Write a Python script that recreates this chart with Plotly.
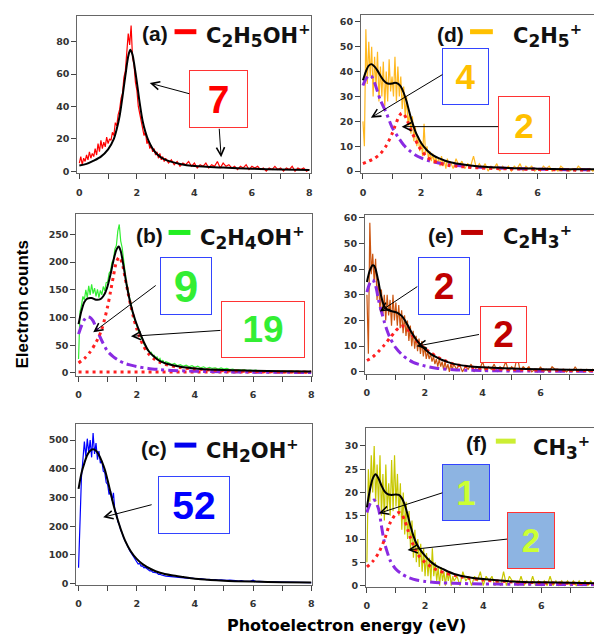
import numpy as np
import plotly.graph_objects as go

W, H = 597, 639

# ---------------- data ----------------
# energy grid of the measured spectra (eV)
energy = np.round(np.concatenate([np.arange(0, 3.0001, 0.05), np.arange(3.1, 8.0001, 0.1)]), 2)

a_counts = [5, 9, 4, 8, 6, 10, 7, 12, 8, 11, 9, 14, 10, 17, 12, 19, 14, 18, 15, 21,
            17, 20, 19, 24, 22, 30, 28, 35, 38, 45, 48, 58, 62, 72, 85, 78, 90, 70, 66, 55,
            50, 40, 36, 30, 28, 22, 24, 17, 19, 14, 16, 12, 14, 10, 12, 8, 11, 7, 9, 6, 8,
            5, 7, 4, 6, 3, 5, 4, 6, 3, 5, 2, 4, 3, 5, 2, 4, 3, 6, 2, 5,
            3, 4, 2, 3, 1, 3, 2, 4, 1, 3, 2, 3, 1, 2, 0, 2, 1, 3, 1, 2,
            0, 2, 1, 3, 0, 2, 1, 2, 0, 1]
b_counts = [25, 110, 122, 138, 132, 150, 136, 157, 141, 160, 143, 153, 138, 151, 136, 149, 141, 156, 148, 163,
            164, 180, 184, 200, 204, 224, 230, 256, 268, 238, 226, 198, 182, 162, 152, 136, 127, 110, 103, 90,
            87, 76, 72, 64, 60, 52, 50, 44, 42, 36, 37, 31, 32, 27, 29, 23, 26, 19, 23, 17, 20,
            18, 15, 17, 13, 15, 12, 14, 11, 13, 10, 12, 9, 11, 8, 10, 8, 9, 7, 9, 7,
            8, 6, 7, 5, 6, 5, 6, 4, 5, 4, 5, 3, 4, 3, 4, 3, 4, 2, 3, 3,
            3, 2, 3, 2, 3, 1, 2, 2, 1, 2]
c_counts = [55, 260, 372, 432, 495, 442, 505, 455, 500, 440, 525, 452, 490, 432, 462, 420, 428, 392, 388, 352,
            346, 310, 322, 290, 316, 252, 246, 216, 206, 186, 176, 160, 151, 138, 128, 116, 108, 96, 92, 81,
            76, 68, 70, 61, 62, 55, 56, 50, 48, 44, 45, 40, 39, 36, 37, 32, 33, 30, 28, 27, 26,
            25, 24, 22, 23, 20, 21, 19, 18, 19, 17, 16, 17, 15, 14, 15, 13, 14, 12, 13, 11,
            11, 12, 10, 10, 9, 10, 8, 9, 8, 12, 7, 8, 7, 6, 7, 6, 6, 5, 6, 5,
            5, 5, 4, 5, 4, 4, 3, 4, 3, 3]
d_counts = [20, 10, 57, 35, 52, 38, 50, 30, 46, 34, 48, 28, 42, 30, 44, 26, 40, 28, 45, 32,
            38, 30, 46, 28, 42, 30, 38, 25, 34, 22, 30, 18, 24, 15, 22, 12, 18, 10, 14, 8,
            12, 6, 19, 7, 10, 5, 8, 4, 7, 3, 6, 3, 5, 2, 6, 2, 4, 1, 5, 2, 4,
            1, 5, 2, 4, 1, 3, 2, 6, 1, 3, 1, 3, 0, 2, 1, 3, 0, 2, 1, 2,
            0, 2, 1, 3, 0, 2, 1, 2, 0, 1, 0, 2, 1, 2, 0, 1, 0, 2, 1, 1,
            0, 1, 0, 2, 1, 1, 0, 1, 0, 1]
e_counts = [30, 7, 58, 38, 46, 35, 44, 28, 36, 24, 32, 22, 30, 20, 30, 22, 28, 18, 30, 20,
            27, 18, 26, 17, 24, 15, 22, 14, 20, 12, 18, 10, 16, 9, 14, 8, 13, 7, 12, 6,
            10, 5, 8, 5, 7, 4, 6, 3, 5, 2, 5, 2, 4, 1, 4, 1, 3, 0, 3, 1, 3,
            1, 3, 0, 2, 1, 3, 0, 2, 1, 4, 0, 2, 1, 3, 0, 2, 1, 4, 0, 2,
            1, 6, 0, 2, 1, 2, 0, 1, 0, 2, 0, 1, 0, 2, 1, 1, 0, 1, 0, 1,
            0, 2, 0, 1, 0, 1, 0, 1, 0, 1]
f_counts = [5, 25, 18, 28, 20, 30, 18, 26, 17, 28, 15, 24, 14, 26, 16, 22, 15, 27, 16, 28,
            17, 24, 15, 22, 12, 20, 11, 18, 10, 16, 8, 14, 6, 12, 5, 10, 4, 9, 3, 8,
            2, 7, 2, 6, 1, 8, 2, 5, 1, 4, 0, 4, 1, 3, 0, 3, 1, 3, 0, 2, 1,
            2, 0, 3, 1, 2, 0, 2, 1, 3, 0, 2, 1, 2, 0, 1, 0, 3, 0, 2, 1,
            1, 0, 2, 0, 1, 0, 2, 0, 1, 0, 1, 0, 2, 0, 1, 0, 1, 0, 1, 0,
            1, 0, 1, 0, 1, 0, 1, 0, 1, 0]

# total fits (black)
a_fit_x = [0, 0.25, 0.5, 0.75, 1.0, 1.2, 1.3, 1.4, 1.5, 1.6, 1.7, 1.77, 1.85, 1.9, 2.0, 2.1, 2.2, 2.3, 2.4, 2.6, 2.8, 3.0, 3.5, 4, 5, 6, 7, 8]
a_fit_y = [3.5, 4.5, 6.5, 9, 13.5, 20, 26, 34, 46, 59, 71, 75, 72, 67, 55, 42, 31, 24, 19, 12.5, 9, 7, 4.5, 3.2, 2.2, 1.5, 1, 0.7]
b_fit_x = [0, 0.1, 0.2, 0.3, 0.45, 0.6, 0.75, 0.9, 1.0, 1.1, 1.2, 1.3, 1.38, 1.45, 1.55, 1.65, 1.8, 1.95, 2.1, 2.25, 2.4, 2.6, 2.8, 3.0, 3.5, 4, 5, 6, 7, 8]
b_fit_y = [88, 112, 128, 134, 135, 132, 133, 143, 157, 178, 203, 222, 228, 220, 192, 160, 122, 95, 74, 55, 40, 29, 21, 17, 11, 8, 5, 4, 3, 2.5]
c_fit_x = [0, 0.1, 0.2, 0.3, 0.4, 0.5, 0.6, 0.7, 0.8, 0.9, 1.0, 1.2, 1.4, 1.6, 1.8, 2.0, 2.2, 2.5, 2.8, 3.2, 3.6, 4.2, 5, 6, 7, 8]
c_fit_y = [330, 385, 420, 448, 463, 468, 463, 448, 426, 398, 360, 275, 205, 150, 112, 86, 68, 50, 38, 29, 23, 15, 10, 7, 5, 4]
d_fit_x = [0, 0.1, 0.2, 0.3, 0.4, 0.5, 0.6, 0.7, 0.8, 0.9, 1.0, 1.1, 1.2, 1.3, 1.4, 1.5, 1.6, 1.7, 1.8, 1.9, 2.0, 2.2, 2.4, 2.6, 2.8, 3.0, 3.5, 4, 5, 6, 7, 8]
d_fit_y = [36.5, 40, 42.4, 43, 42, 40.4, 38.3, 36.6, 35.5, 35.1, 35.2, 35.5, 35.2, 34, 31.5, 28, 23.5, 19.5, 16, 13.5, 11.3, 8.4, 6.4, 5.2, 4.3, 3.6, 2.6, 1.9, 1.3, 1.0, 0.8, 0.7]
e_fit_x = [0, 0.1, 0.2, 0.25, 0.3, 0.4, 0.5, 0.6, 0.7, 0.8, 0.9, 1.0, 1.1, 1.2, 1.3, 1.4, 1.5, 1.6, 1.7, 1.8, 2.0, 2.2, 2.4, 2.6, 2.8, 3.0, 3.5, 4, 5, 6, 7, 8]
e_fit_y = [35, 39.5, 41.5, 41.3, 40, 35, 29, 25.5, 24.3, 23.8, 23.5, 23.2, 22.7, 21.8, 20.3, 18.3, 16.2, 14.3, 12.6, 11.2, 8.9, 7.0, 5.7, 4.6, 3.8, 3.1, 2.2, 1.8, 1.3, 1.0, 0.8, 0.7]
f_fit_x = [0, 0.1, 0.2, 0.3, 0.4, 0.5, 0.6, 0.7, 0.8, 0.9, 1.0, 1.1, 1.2, 1.3, 1.4, 1.5, 1.6, 1.7, 1.8, 2.0, 2.2, 2.4, 2.6, 2.8, 3.0, 3.5, 4, 5, 6, 7, 8]
f_fit_y = [16.8, 20.5, 23, 23.9, 23, 21.5, 20.3, 19.7, 19.5, 19.5, 19.6, 19.5, 18.8, 17.4, 15.2, 12.8, 10.7, 9.1, 8.0, 6.4, 5.1, 4.2, 3.6, 3.0, 2.5, 1.8, 1.4, 0.9, 0.7, 0.6, 0.5]

# low-energy component (purple dash-dot)
b_low_x = [0, 0.1, 0.2, 0.3, 0.4, 0.5, 0.6, 0.8, 1.0, 1.2, 1.4, 1.6, 1.8, 2.0, 2.4, 2.8, 3.2, 4, 5, 6, 7, 8]
b_low_y = [70, 85, 96, 101, 100, 94, 82, 58, 39, 29, 22, 17, 14, 11.5, 8, 6, 4.5, 3, 2, 1.3, 1, 0.8]
d_low_x = [0, 0.1, 0.2, 0.3, 0.4, 0.5, 0.6, 0.8, 1.0, 1.2, 1.4, 1.6, 1.8, 2.0, 2.2, 2.6, 3.0, 3.5, 4, 5, 6, 7, 8]
d_low_y = [34.4, 37, 38.4, 38, 35.5, 32, 28.5, 23.5, 17.6, 13.8, 10.5, 8.2, 6.5, 5.3, 4.4, 3.3, 2.5, 2.0, 1.6, 1.1, 0.8, 0.6, 0.5]
e_low_x = [0, 0.1, 0.2, 0.3, 0.4, 0.5, 0.6, 0.7, 0.8, 1.0, 1.2, 1.4, 1.6, 1.8, 2.0, 2.4, 3, 4, 5, 6, 8]
e_low_y = [31, 34.5, 35.8, 33.5, 28, 23.5, 19.5, 16, 13.2, 9.3, 6.8, 5.0, 3.7, 2.9, 2.3, 1.4, 0.8, 0.5, 0.35, 0.25, 0.2]
f_low_x = [0, 0.1, 0.2, 0.25, 0.3, 0.4, 0.5, 0.6, 0.7, 0.8, 1.0, 1.2, 1.4, 1.7, 2.0, 2.5, 3, 4, 5, 6, 8]
f_low_y = [15.7, 17.5, 18.3, 18.4, 18, 16.5, 12.8, 9.3, 7.2, 5.4, 3.5, 2.5, 1.8, 1.2, 0.9, 0.6, 0.5, 0.35, 0.3, 0.25, 0.2]

# high-energy component (red dotted)
b_high_x = [0, 0.2, 0.4, 0.6, 0.8, 1.0, 1.1, 1.2, 1.3, 1.4, 1.5, 1.6, 1.7, 1.8, 1.9, 2.0, 2.2, 2.4, 2.6, 2.8, 3.0, 3.5, 4, 5, 6, 7, 8]
b_high_y = [18, 26, 38, 55, 79, 120, 147, 175, 200, 209, 198, 172, 145, 120, 98, 80, 52, 35, 25, 19, 15, 9.5, 7, 4, 2.5, 1.7, 1.2]
d_high_x = [0, 0.2, 0.4, 0.6, 0.8, 1.0, 1.1, 1.2, 1.3, 1.35, 1.4, 1.5, 1.6, 1.7, 1.8, 1.9, 2.0, 2.2, 2.4, 2.6, 3.0, 3.5, 4, 5, 6, 7, 8]
d_high_y = [3.0, 4.0, 5.2, 7.0, 10.2, 15, 18, 21, 23, 23.3, 23, 21, 18, 15.2, 12.6, 10.3, 8.5, 5.7, 4.2, 3.3, 2.2, 1.7, 1.3, 0.9, 0.7, 0.5, 0.4]
e_high_x = [0, 0.2, 0.4, 0.6, 0.8, 1.0, 1.1, 1.2, 1.3, 1.4, 1.6, 1.8, 2.0, 2.2, 2.4, 2.6, 3.0, 3.5, 4, 5, 6, 7, 8]
e_high_y = [4.4, 5.8, 7.9, 10.4, 13.3, 16, 17.2, 17.8, 17.5, 16.6, 13.6, 11.2, 9.1, 7.5, 6.0, 4.8, 3.0, 2.0, 1.4, 0.9, 0.7, 0.55, 0.5]
f_high_x = [0, 0.2, 0.4, 0.6, 0.8, 1.0, 1.1, 1.2, 1.3, 1.4, 1.5, 1.6, 1.7, 1.8, 2.0, 2.2, 2.4, 2.7, 3.0, 3.5, 4, 5, 6, 7, 8]
f_high_y = [4.0, 5.2, 7.0, 9.8, 13.5, 15.4, 15.7, 15.3, 14.0, 12.1, 10.2, 8.6, 7.3, 6.3, 5.0, 4.1, 3.4, 2.7, 2.2, 1.6, 1.2, 0.8, 0.6, 0.5, 0.4]

# flat background (red dotted) in panel b
b_bg_x = [0, 8]
b_bg_y = [1.5, 1.5]

# panel texts
SUB = '<sub><span style="font-size:17px">{}</span></sub>'
panel_tags = ["(a)", "(b)", "(c)", "(d)", "(e)", "(f)"]
panel_ions = ["C" + SUB.format("2") + "H" + SUB.format("5") + "OH<sup>+</sup>",
              "C" + SUB.format("2") + "H" + SUB.format("4") + "OH<sup>+</sup>",
              "CH" + SUB.format("2") + "OH<sup>+</sup>",
              "C" + SUB.format("2") + "H" + SUB.format("5") + "<sup>+</sup>",
              "C" + SUB.format("2") + "H" + SUB.format("3") + "<sup>+</sup>",
              "CH" + SUB.format("3") + "<sup>+</sup>"]
box_numbers = {"a": ["7"], "b": ["9", "19"], "c": ["52"], "d": ["4", "2"], "e": ["2", "2"], "f": ["1", "2"]}
y_ticks_step = [20, 50, 100, 10, 10, 5]

# ---------------- styling / layout ----------------
panels = [
    dict(k="a", s="", dom=(76, 312, 13, 172), xr=[-0.069, 8.069], yr=[-1.2, 96], dc="#ff0000", lc="#ff0000", my=True,
         counts=a_counts, fit=(a_fit_x, a_fit_y), low=None, high=None),
    dict(k="b", s="2", dom=(75, 313, 213, 377), xr=[-0.075, 8.04], yr=[-5.4, 287.5], dc="#33ee33", lc="#22ee22", my=True,
         counts=b_counts, fit=(b_fit_x, b_fit_y), low=(b_low_x, b_low_y), high=(b_high_x, b_high_y)),
    dict(k="c", s="3", dom=(75, 313, 426, 588), xr=[-0.075, 8.04], yr=[-3.4, 555], dc="#0000ff", lc="#0000ee", my=True,
         counts=c_counts, fit=(c_fit_x, c_fit_y), low=None, high=None),
    dict(k="d", s="4", dom=(362, 597, 12, 172), xr=[-0.068, 7.94], yr=[-0.8, 62.8], dc="#ffb820", lc="#ffc000", my=False,
         counts=d_counts, fit=(d_fit_x, d_fit_y), low=(d_low_x, d_low_y), high=(d_high_x, d_high_y)),
    dict(k="e", s="5", dom=(366, 597, 214, 375), xr=[-0.069, 7.85], yr=[-0.8, 61.2], dc="#cc5510", lc="#c00000", my=False,
         counts=e_counts, fit=(e_fit_x, e_fit_y), low=(e_low_x, e_low_y), high=(e_high_x, e_high_y)),
    dict(k="f", s="6", dom=(367, 597, 430, 590), xr=[-0.034, 7.81], yr=[-0.2, 33.8], dc="#c8c800", lc="#ccee33", my=False,
         counts=f_counts, fit=(f_fit_x, f_fit_y), low=(f_low_x, f_low_y), high=(f_high_x, f_high_y)),
]

PURPLE = "#8a2be2"
RED = "#ff2020"
tickfont = dict(family="DejaVu Sans", size=9.5, color="#333333", weight="bold")

fig = go.Figure()
layout = {}
for i, p in enumerate(panels):
    xa, ya = "x" + p["s"], "y" + p["s"]
    fig.add_trace(go.Scatter(x=energy, y=p["counts"], mode="lines", xaxis=xa, yaxis=ya,
                             line=dict(color=p["dc"], width=1.2), hoverinfo="skip"))
    if p["k"] == "b":
        fig.add_trace(go.Scatter(x=b_bg_x, y=b_bg_y, mode="lines", xaxis=xa, yaxis=ya,
                                 line=dict(color=RED, width=3, dash="3px,4px")))
    if p["low"] is not None:
        fig.add_trace(go.Scatter(x=p["low"][0], y=p["low"][1], mode="lines", xaxis=xa, yaxis=ya,
                                 line=dict(color=PURPLE, width=3, dash="10px,4px,3px,4px", shape="spline", smoothing=0.8)))
    if p["high"] is not None:
        fig.add_trace(go.Scatter(x=p["high"][0], y=p["high"][1], mode="lines", xaxis=xa, yaxis=ya,
                                 line=dict(color=RED, width=3, dash="3px,4px", shape="spline", smoothing=0.8)))
    fig.add_trace(go.Scatter(x=p["fit"][0], y=p["fit"][1], mode="lines", xaxis=xa, yaxis=ya,
                             line=dict(color="black", width=2, shape="spline", smoothing=0.8)))

    x0, x1, yt, yb = p["dom"]
    xname = "xaxis" + p["s"]
    yname = "yaxis" + p["s"]
    layout[xname] = dict(domain=[x0 / W, x1 / W], range=p["xr"], anchor=ya, tick0=0, dtick=2,
                         showline=True, linecolor="#666666", linewidth=1, mirror=True,
                         ticks="outside", ticklen=5, tickcolor="#444444", tickwidth=1,
                         minor=dict(dtick=1, tick0=0, ticks="outside", ticklen=5, tickcolor="#444444"),
                         showgrid=False, zeroline=False, tickfont=tickfont, ticklabelstandoff=5)
    layout[yname] = dict(domain=[1 - yb / H, 1 - yt / H], range=p["yr"], anchor=xa, tick0=0,
                         dtick=y_ticks_step[i], showline=True, linecolor="#666666", linewidth=1,
                         mirror=p["my"], ticks="outside", ticklen=5, tickcolor="#444444", tickwidth=1,
                         showgrid=False, zeroline=False, tickfont=tickfont)

annotations = []
shapes = []

# panel tags, legend line, ion formula : (tag left, tag center y, line x0, line x1, line y, formula left, formula center y)
label_pos = {
    "a": (139, 31, 174, 196, 29, 204, 33),
    "b": (133, 235, 168, 190, 232, 198, 237),
    "c": (138, 450, 174, 196, 447, 204, 452),
    "d": (437, 32, 472, 495, 29, 513, 33),
    "e": (428, 235, 463, 485, 232, 503, 236),
    "f": (466, 445, 498, 518, 443, 533, 449),
}
for i, p in enumerate(panels):
    tx, ty, lx0, lx1, ly, fx, fy = label_pos[p["k"]]
    annotations.append(dict(x=tx / W, y=1 - ty / H, xref="paper", yref="paper", xanchor="left", yanchor="middle",
                            text=panel_tags[i], showarrow=False,
                            font=dict(family="Liberation Sans", size=21, color="#111111", weight="bold")))
    annotations.append(dict(x=fx / W, y=1 - fy / H, xref="paper", yref="paper", xanchor="left", yanchor="middle",
                            text=panel_ions[i], showarrow=False,
                            font=dict(family="DejaVu Sans", size=21, color="#111111", weight="bold")))
    shapes.append(dict(type="line", xref="paper", yref="paper", x0=lx0 / W, x1=lx1 / W,
                       y0=1 - ly / H, y1=1 - ly / H, line=dict(color=p["lc"], width=5)))

BLUE_B = "#3344ff"
RED_B = "#ff3333"
boxes = [
    ("a", 0, (189, 248, 68, 126), "#ff0000", RED_B, "white", 39),
    ("b", 0, (160, 212, 257, 315), "#33ee33", BLUE_B, "white", 44),
    ("b", 1, (221, 305, 302, 359), "#33ee33", RED_B, "white", 37),
    ("c", 0, (158, 230, 479, 537), "#0000ff", BLUE_B, "white", 39),
    ("d", 0, (444, 491, 46, 103), "#ffc000", BLUE_B, "white", 35),
    ("d", 1, (500, 552, 94, 152), "#ffc000", RED_B, "white", 35),
    ("e", 0, (420, 472, 257, 315), "#c00000", BLUE_B, "white", 37),
    ("e", 1, (482, 529, 307, 364), "#c00000", RED_B, "white", 37),
    ("f", 0, (444, 492, 466, 523), "#ccff33", BLUE_B, "#8db4e2", 35),
    ("f", 1, (509, 557, 515, 572), "#ccff33", RED_B, "#8db4e2", 33),
]
for k, j, (bx0, bx1, by0, by1), col, bcol, bg, fs in boxes:
    annotations.append(dict(x=(bx0 + bx1) / 2 / W, y=1 - (by0 + by1) / 2 / H, xref="paper", yref="paper",
                            xanchor="center", yanchor="middle", text=box_numbers[k][j], showarrow=False,
                            width=bx1 - bx0 - 2, height=by1 - by0 - 2, bordercolor=bcol, borderwidth=1,
                            borderpad=0, bgcolor=bg, align="center", valign="middle",
                            font=dict(family="Liberation Sans", size=fs, color=col, weight="bold")))

arrows = [
    ((190, 92), (149, 81)), ((219, 126), (221, 156)),
    ((156, 285), (92, 333)), ((221, 331), (130, 337)),
    ((152, 507), (102, 520)),
    ((445, 72), (372, 116)), ((501, 125), (403, 125)),
    ((420, 286), (381, 312)), ((482, 335), (418, 347)),
    ((445, 495), (380, 516)), ((510, 542), (409, 553)),
]
for (tx, ty), (hx, hy) in arrows:
    annotations.append(dict(x=hx / W, y=1 - hy / H, xref="paper", yref="paper", ax=tx - hx, ay=ty - hy,
                            text="", showarrow=True, arrowhead=5, arrowsize=1.6, arrowwidth=1,
                            arrowcolor="black", standoff=0, startstandoff=0))

annotations.append(dict(x=21 / W, y=1 - 305 / H, xref="paper", yref="paper", xanchor="center", yanchor="middle",
                        text="Electron counts", textangle=-90, showarrow=False,
                        font=dict(family="Liberation Sans", size=17, color="black", weight="bold")))
annotations.append(dict(x=347 / W, y=1 - 629 / H, xref="paper", yref="paper", xanchor="center", yanchor="middle",
                        text="Photoelectron energy (eV)", showarrow=False,
                        font=dict(family="DejaVu Sans", size=16, color="black", weight="bold")))

fig.update_layout(width=W, height=H, margin=dict(l=0, r=0, t=0, b=0), showlegend=False,
                  paper_bgcolor="white", plot_bgcolor="white",
                  annotations=annotations, shapes=shapes, **layout)
fig.write_html("out.html", config={"displayModeBar": False},
               post_script="document.body.style.margin='0';document.body.style.overflow='hidden';")
